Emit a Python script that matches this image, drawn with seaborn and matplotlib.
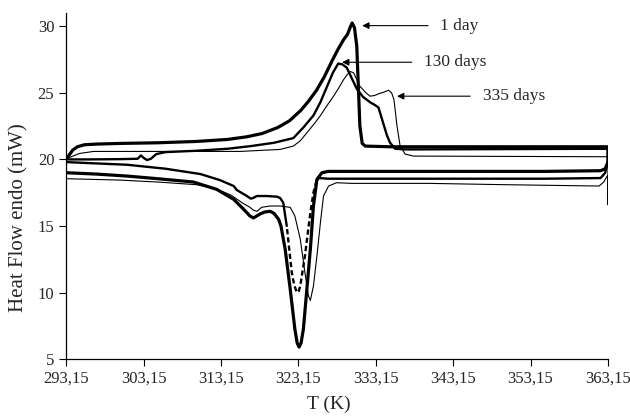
import pandas as pd
import matplotlib
matplotlib.use('Agg')
import matplotlib.pyplot as plt
import seaborn as sns

# ---- heating runs (T in K, heat flow in mW) ----
t_heat_1d = [293.15, 293.5, 294.0, 294.6, 295.5, 297, 300, 305, 310, 314, 316.5, 318.5,
             320.5, 322, 323.5, 324.5, 325.5, 326.5, 327.5, 328.3, 329.0, 329.5, 329.9,
             330.1, 330.4, 330.7, 330.9, 331.1, 331.4, 331.8, 335, 345, 363.15]
hf_heat_1d = [20.0, 20.3, 20.7, 20.95, 21.1, 21.15, 21.2, 21.25, 21.35, 21.5, 21.7, 21.95,
              22.4, 22.9, 23.7, 24.4, 25.2, 26.2, 27.4, 28.3, 29.0, 29.4, 30.0,
              30.25, 29.9, 28.5, 25.5, 22.5, 21.2, 21.0, 20.95, 20.95, 20.95]

t_heat_130 = [293.15, 296, 300, 302.4, 302.8, 303.2, 303.6, 304.1, 304.8, 306, 310, 314,
              317, 320, 322.5, 323.8, 325.1, 326, 326.8, 327.6, 328.3, 328.8, 329.4,
              330.05, 330.7, 331.5, 332.4, 333.0, 333.5, 334.1, 334.6, 335.0, 335.65,
              337, 363.15]
hf_heat_130 = [20.0, 20.0, 20.02, 20.05, 20.3, 20.1, 19.95, 20.05, 20.4, 20.55, 20.65, 20.8,
               21.0, 21.25, 21.6, 22.4, 23.3, 24.3, 25.4, 26.5, 27.2, 27.15, 26.9,
               26.1, 25.3, 24.7, 24.3, 24.1, 23.9, 22.75, 21.8, 21.25, 20.8,
               20.75, 20.8]

t_heat_335 = [293.15, 293.8, 294.9, 296.7, 305, 315.6, 320.8, 322.5, 323.4, 324.25, 325.1,
              325.95, 326.8, 327.7, 328.4, 329.0, 329.5, 329.9, 330.3, 330.7, 331.1, 331.8,
              332.4, 333.0, 333.6, 334.2, 334.8, 335.2, 335.5, 335.9, 336.3, 336.95, 338,
              363.15]
hf_heat_335 = [20.0, 20.2, 20.45, 20.6, 20.6, 20.6, 20.75, 21.0, 21.4, 22.0, 22.6,
               23.25, 24.0, 24.75, 25.4, 26.0, 26.4, 26.6, 26.5, 26.0, 25.5, 25.05,
               24.75, 24.8, 24.95, 25.05, 25.2, 25.0, 24.5, 22.5, 21.0, 20.4, 20.25,
               20.2]

# ---- cooling runs (recorded from high to low T) ----
t_cool_1d = [363.15, 362.8, 362.2, 355, 340, 330, 327, 326.2, 325.55, 325.1, 324.7, 324.25,
             323.8, 323.5, 323.25, 323.0, 322.7, 322.1, 321.45, 320.9, 320.6, 320.0, 319.5,
             318.8, 318.2, 317.35, 316.9, 316.0, 314.8, 312.6, 309.6, 305, 301, 297, 293.15]
hf_cool_1d = [19.8, 19.3, 19.15, 19.1, 19.1, 19.1, 19.1, 19.0, 18.5, 16.5, 13.25, 10.25,
              7.25, 6.2, 5.9, 6.2, 7.25, 10.25, 13.25, 15.0, 15.5, 15.95, 16.1,
              16.05, 15.9, 15.6, 15.75, 16.3, 17.0, 17.75, 18.3, 18.55, 18.75, 18.9, 19.0]

t_cool_130 = [363.15, 362.8, 362.2, 355, 340, 330, 327, 325.8, 325.5, 325.1, 324.7, 324.0,
              323.4, 323.2, 322.95, 322.6, 322.3, 321.65, 321.2, 320.8, 320.4, 319, 317.8,
              317.3, 317.0, 316.5, 315.2, 314.8, 313.0, 310.5, 306, 301, 297, 293.15]
hf_cool_130 = [19.9, 19.0, 18.6, 18.55, 18.55, 18.55, 18.55, 18.6, 18.4, 17.5, 16.0, 12.75,
               10.5, 10.1, 10.0, 10.6, 11.5, 15.0, 16.75, 17.1, 17.2, 17.25, 17.25,
               17.1, 17.05, 17.25, 17.7, 18.0, 18.45, 18.9, 19.3, 19.6, 19.7, 19.8]

t_cool_335 = [363.15, 363.1, 362.6, 362.0, 350, 340, 330, 328.1, 327.05, 326.4, 326.0,
              325.55, 325.1, 324.7, 324.45, 324.0, 323.4, 322.7, 322.1, 320.8, 319.5, 318.4,
              317.8, 317.3, 316.9, 316.0, 314.5, 312.5, 310, 305, 300, 293.15]
hf_cool_335 = [16.6, 18.8, 18.3, 18.0, 18.1, 18.2, 18.2, 18.25, 18.0, 17.25, 15.25,
               12.75, 10.5, 9.4, 9.75, 11.5, 14.0, 15.75, 16.4, 16.5, 16.5, 16.4,
               16.1, 16.2, 16.4, 16.7, 17.3, 17.8, 18.1, 18.3, 18.45, 18.55]

x_ticks = [293.15, 303.15, 313.15, 323.15, 333.15, 343.15, 353.15, 363.15]
x_tick_labels = ['293,15', '303,15', '313,15', '323,15', '333,15', '343,15', '353,15', '363,15']
y_ticks = [5, 10, 15, 20, 25, 30]

labels = ['1 day', '130 days', '335 days']
label_tips = [(331.4, 30.05), (328.8, 27.3), (335.9, 24.75)]
label_tails = [(339.9, 30.05), (337.8, 27.3), (345.35, 24.75)]


def run(t_h, hf_h, t_c, hf_c):
    return pd.DataFrame({'T': t_h + t_c, 'HF': hf_h + hf_c})


sns.set_style('ticks')
plt.rcParams['font.family'] = ['Liberation Serif', 'DejaVu Serif']

fig, ax = plt.subplots(figsize=(6.3, 4.19), dpi=100)
fig.subplots_adjust(left=0.105, right=0.965, bottom=0.143, top=0.969)

df_1d = run(t_heat_1d, hf_heat_1d, t_cool_1d, hf_cool_1d)
df_335 = run(t_heat_335, hf_heat_335, t_cool_335, hf_cool_335)
sns.lineplot(data=df_335, x='T', y='HF', sort=False, estimator=None,
             color='black', linewidth=0.8, ax=ax)
sns.lineplot(data=df_1d, x='T', y='HF', sort=False, estimator=None,
             color='black', linewidth=2.3, ax=ax)

# 130 days: heating + cooling, crystallisation dip drawn dashed
cool_130 = pd.DataFrame({'T': t_cool_130, 'HF': hf_cool_130})
heat_130 = pd.DataFrame({'T': t_heat_130, 'HF': hf_heat_130})
right_part = pd.concat([heat_130, cool_130[cool_130['T'] >= 325.5]])
dip_part = cool_130[(cool_130['T'] <= 325.5) & (cool_130['T'] >= 321.65)]
left_part = cool_130[cool_130['T'] <= 321.65]
for part in [right_part, left_part]:
    sns.lineplot(data=part, x='T', y='HF', sort=False, estimator=None,
                 color='black', linewidth=1.7, ax=ax)
ax.plot(dip_part['T'], dip_part['HF'], color='black', linewidth=1.7,
        linestyle=(0, (2.2, 1.3)))

for lab, tip, tail in zip(labels, label_tips, label_tails):
    ax.annotate('', xy=tip, xytext=tail,
                arrowprops=dict(arrowstyle='-|>', color='black', lw=0.8,
                                mutation_scale=10, shrinkA=0, shrinkB=0))
    ax.text(tail[0] + 1.6, tail[1], lab, fontsize=12.5, va='center', ha='left')

ax.set_xlim(293.15, 363.15)
ax.set_ylim(5, 31)
ax.set_xticks(x_ticks)
ax.set_xticklabels(x_tick_labels)
ax.set_yticks(y_ticks)
ax.tick_params(labelsize=12, direction='out', length=5, width=0.8, color='black')
ax.set_xlabel('T (K)', fontsize=14)
ax.set_ylabel('Heat Flow endo (mW)', fontsize=15)
ax.xaxis.set_label_coords(0.485, -0.105)
ax.yaxis.set_label_coords(-0.07, 0.41)
sns.despine(ax=ax)
for sp in ax.spines.values():
    sp.set_linewidth(0.9)
    sp.set_color('black')

plt.savefig('out.png', dpi=100)
